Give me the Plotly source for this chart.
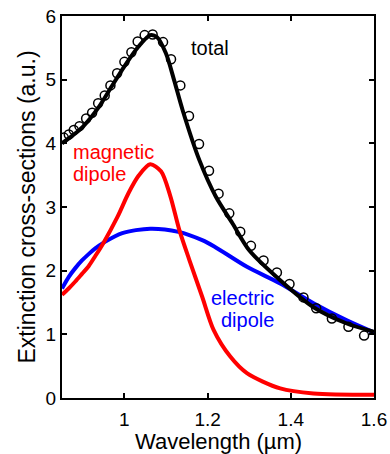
import plotly.graph_objects as go

# total (line)
total_x = [0.85, 0.875, 0.90, 0.9375, 0.97, 1.0, 1.034, 1.062, 1.078, 1.10, 1.12, 1.14, 1.18, 1.22, 1.26, 1.30, 1.3745, 1.4538, 1.5347, 1.60]
total_y = [4.00, 4.12, 4.26, 4.56, 4.90, 5.21, 5.52, 5.70, 5.67, 5.41, 4.98, 4.52, 3.74, 3.16, 2.74, 2.32, 1.85, 1.43, 1.17, 1.04]

# total (measured circles)
meas_x = [0.8543, 0.8663, 0.8783, 0.8920, 0.9080, 0.9224, 0.9369, 0.9527, 0.9664, 0.9825,
          1.0000, 1.0168, 1.0319, 1.0487, 1.0679, 1.0929, 1.1121, 1.1345, 1.1553, 1.1794,
          1.2034, 1.2264, 1.2521, 1.2785, 1.3042, 1.3345, 1.3666, 1.3969, 1.4305, 1.4610,
          1.4987, 1.5385, 1.5762]
meas_y = [4.09, 4.14, 4.21, 4.27, 4.39, 4.48, 4.63, 4.75, 4.91, 5.10,
          5.28, 5.43, 5.60, 5.70, 5.71, 5.59, 5.32, 4.91, 4.43, 3.99,
          3.57, 3.21, 2.90, 2.61, 2.39, 2.16, 1.97, 1.79, 1.58, 1.41,
          1.25, 1.12, 0.98]

# magnetic dipole
mag_x = [0.85, 0.866, 0.882, 0.898, 0.914, 0.93, 0.95, 0.983, 1.01, 1.034, 1.062, 1.088, 1.11, 1.132, 1.156, 1.187, 1.2144, 1.2545, 1.2945, 1.3745, 1.4545, 1.60]
mag_y = [1.62, 1.72, 1.83, 1.95, 2.07, 2.23, 2.44, 2.84, 3.22, 3.49, 3.67, 3.56, 3.18, 2.64, 2.17, 1.59, 1.07, 0.65, 0.39, 0.15, 0.07, 0.05]

# electric dipole
ele_x = [0.85, 0.866, 0.882, 0.898, 0.914, 0.93, 0.95, 0.995, 1.062, 1.13, 1.187, 1.216, 1.2946, 1.3745, 1.4545, 1.5347, 1.60]
ele_y = [1.72, 1.90, 2.04, 2.16, 2.26, 2.35, 2.44, 2.59, 2.66, 2.61, 2.48, 2.38, 2.06, 1.80, 1.49, 1.22, 1.03]

x_ticks = [1, 1.2, 1.4, 1.6]
x_tick_text = ["1", "1.2", "1.4", "1.6"]
y_ticks = [0, 1, 2, 3, 4, 5, 6]

FONT = "Arial, 'Liberation Sans', sans-serif"

fig = go.Figure()
fig.add_trace(go.Scatter(x=ele_x, y=ele_y, mode="lines", line=dict(color="#0000ff", width=4, shape="spline", smoothing=0.8), showlegend=False))
fig.add_trace(go.Scatter(x=mag_x, y=mag_y, mode="lines", line=dict(color="#ff0000", width=4, shape="spline", smoothing=0.8), showlegend=False))
fig.add_trace(go.Scatter(x=total_x, y=total_y, mode="lines", line=dict(color="#000000", width=4, shape="spline", smoothing=0.8), showlegend=False))
fig.add_trace(go.Scatter(x=meas_x, y=meas_y, mode="markers",
                         marker=dict(symbol="circle-open", size=9, color="#000000", line=dict(width=1.5, color="#000000")),
                         showlegend=False))

anns = [
    dict(x=1.2065, y=5.49, text="total", color="#000000", xanchor="center"),
    dict(x=0.872, y=3.87, text="magnetic", color="#ff0000", xanchor="left"),
    dict(x=0.872, y=3.52, text="dipole", color="#ff0000", xanchor="left"),
    dict(x=1.2846, y=1.57, text="electric", color="#0000ff", xanchor="center"),
    dict(x=1.2959, y=1.22, text="dipole", color="#0000ff", xanchor="center"),
]
for a in anns:
    fig.add_annotation(x=a["x"], y=a["y"], text=a["text"], showarrow=False, xanchor=a["xanchor"], yanchor="middle",
                       font=dict(family=FONT, size=20, color=a["color"]))

# x-axis title as a paper-anchored annotation (centered under the axis)
fig.add_annotation(x=0.5, y=-0.113, xref="paper", yref="paper", text="Wavelength (µm)", showarrow=False,
                   xanchor="center", yanchor="middle", font=dict(family=FONT, size=22, color="#000000"))

fig.update_layout(
    width=390, height=454,
    margin=dict(l=62, r=16, t=16, b=56, autoexpand=False),
    paper_bgcolor="white", plot_bgcolor="white",
    font=dict(family=FONT, color="#000000"),
    xaxis=dict(range=[0.85, 1.6], tickvals=x_ticks, ticktext=x_tick_text, ticks="inside", ticklen=5, tickwidth=1.5,
               tickcolor="#000000", showline=True, linecolor="#000000", linewidth=2, mirror="ticks",
               showgrid=False, zeroline=False, tickfont=dict(size=19, family=FONT), ticklabelstandoff=3,
               automargin=False),
    yaxis=dict(range=[0, 6], tickvals=y_ticks, ticks="inside", ticklen=5, tickwidth=1.5,
               tickcolor="#000000", showline=True, linecolor="#000000", linewidth=2, mirror="ticks",
               showgrid=False, zeroline=False, tickfont=dict(size=19, family=FONT), automargin=False,
               title=dict(text="Extinction cross-sections (a.u.)", font=dict(size=23, family=FONT), standoff=4)),
)

fig.write_html("out.html")
